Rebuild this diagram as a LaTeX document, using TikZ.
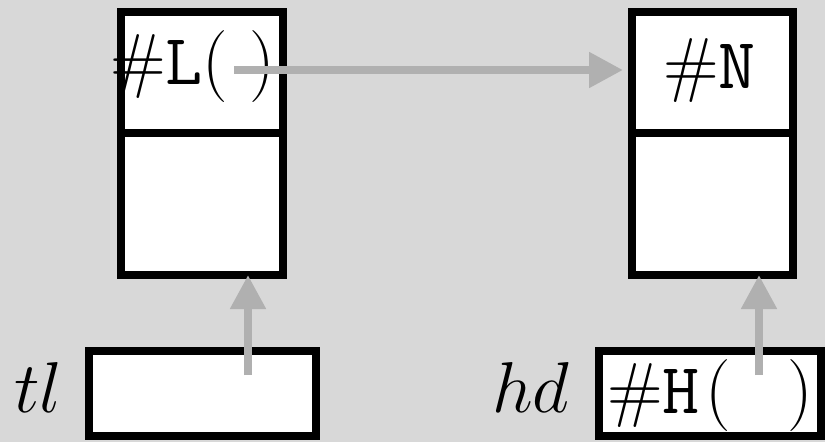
\RequirePackage{fix-cm}
\documentclass[tikz,border=0pt]{standalone}
\usetikzlibrary{arrows.meta}
\definecolor{bgc}{RGB}{216,216,216}
\definecolor{arrc}{RGB}{176,176,176}
\begin{document}
\begin{tikzpicture}[x=1pt,y=-1pt,
  cell/.style={draw=black,fill=white,line width=8pt,inner sep=0pt,outer sep=0pt,rectangle},
  lbl/.style={inner sep=0pt,outer sep=0pt,anchor=base west,font=\fontsize{72}{80}\selectfont},
  ptr/.style={draw=arrc,line width=8pt,-{Triangle[length=34pt,width=34pt]}}]
\fill[bgc] (0,0) rectangle (825,442);
\useasboundingbox (0,0) rectangle (825,442);
% left tall box
\node[cell,minimum width=162pt,minimum height=120.5pt] (Ltop) at (202,72.25) {};
\node[cell,minimum width=162pt,minimum height=142.5pt] (Lbot) at (202,203.75) {};
% right tall box
\node[cell,minimum width=161pt,minimum height=120.5pt] (Ntop) at (712.5,72.25) {};
\node[cell,minimum width=161pt,minimum height=142.5pt] (Nbot) at (712.5,203.75) {};
% small boxes
\node[cell,minimum width=227pt,minimum height=85pt] (tlbox) at (202.5,393.5) {};
\node[cell,minimum width=222pt,minimum height=85pt] (hdbox) at (710,393.5) {};
% texts
\node[lbl] (Ltext) at (110,84) {\#\texttt{L}( )};
\node[lbl] (Ntext) at (663,88) {\#\texttt{N}};
\node[lbl] (Htext) at (607,413) {\#\texttt{H}\kern6pt(\hspace*{56pt})};
\node[lbl] (tl) at (14,412) {$tl$};
\node[lbl] (hd) at (492,412) {$hd$};
% pointers
\coordinate (pL) at (234,70);
\coordinate (ptl) at (248,375);
\coordinate (phd) at (759,375);
\draw[ptr,shorten >=9pt] (pL) -- (pL -| Ntop.west);
\draw[ptr] (ptl) -- (ptl |- Lbot.south);
\draw[ptr] (phd) -- (phd |- Nbot.south);
\end{tikzpicture}
\end{document}
